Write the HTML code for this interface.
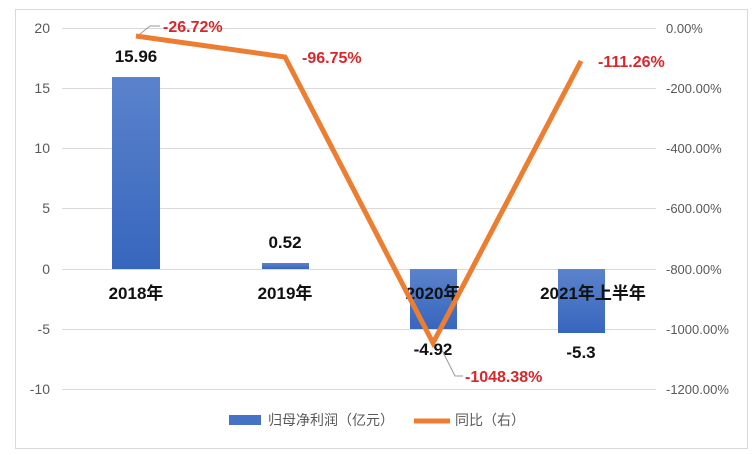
<!DOCTYPE html><html><head><meta charset="utf-8"><style>body{margin:0;background:#fff}svg{display:block}</style></head><body>
<svg width="756" height="455" xmlns="http://www.w3.org/2000/svg" font-family="Liberation Sans, Noto Sans CJK SC, sans-serif">
<defs><linearGradient id="g" x1="0" y1="0" x2="0" y2="1"><stop offset="0" stop-color="#5b83cc"/><stop offset="1" stop-color="#3766be"/></linearGradient></defs>
<rect x="15.5" y="9.5" width="732" height="439" fill="#fff" stroke="#d9d9d9"/>
<g stroke="#d9d9d9" stroke-width="1">
<line x1="62" x2="656" y1="28.5" y2="28.5"/><line x1="62" x2="656" y1="88.5" y2="88.5"/><line x1="62" x2="656" y1="148.5" y2="148.5"/><line x1="62" x2="656" y1="208.5" y2="208.5"/><line x1="62" x2="656" y1="269.5" y2="269.5"/><line x1="62" x2="656" y1="329.5" y2="329.5"/><line x1="62" x2="656" y1="389.5" y2="389.5"/></g>
<g fill="#595959" font-size="14" text-anchor="end">
<text x="50" y="33">20</text><text x="50" y="93">15</text><text x="50" y="153">10</text><text x="50" y="213">5</text><text x="50" y="274">0</text><text x="50" y="334">-5</text><text x="50" y="394">-10</text></g>
<g fill="#595959" font-size="13" text-anchor="start">
<text x="666" y="33">0.00%</text><text x="666" y="93">-200.00%</text><text x="666" y="153">-400.00%</text><text x="666" y="213">-600.00%</text><text x="666" y="274">-800.00%</text><text x="666" y="334">-1000.00%</text><text x="666" y="394">-1200.00%</text></g>
<g fill="url(#g)">
<rect x="112" y="77" width="48" height="192"/><rect x="262" y="263" width="47" height="6"/><rect x="410" y="269" width="47" height="60"/><rect x="558" y="269" width="47" height="64"/></g>
<g fill="#111" font-size="17" font-weight="bold" text-anchor="middle">
<text x="136" y="62">15.96</text><text x="285" y="248">0.52</text><text x="433" y="355">-4.92</text><text x="581" y="358">-5.3</text>
<text x="136" y="299">2018年</text><text x="285" y="299">2019年</text><text x="433" y="299">2020年</text><text x="593" y="299">2021年上半年</text></g>
<polyline points="136,36 285,57 433,343 581,61" fill="none" stroke="#ed7d31" stroke-width="5" stroke-linejoin="miter"/>
<polyline points="140,34 150,26 160,26" fill="none" stroke="#999" stroke-width="1"/>
<polyline points="442,350 455,376 463,376" fill="none" stroke="#999" stroke-width="1"/>
<g fill="#d9262b" font-size="16" font-weight="bold">
<text x="163" y="32">-26.72%</text><text x="302" y="63">-96.75%</text><text x="465" y="382">-1048.38%</text><text x="598" y="67">-111.26%</text></g>
<rect x="229" y="415" width="32" height="10" fill="#4472c4"/>
<text x="268" y="425" font-size="14" fill="#595959">归母净利润（亿元）</text>
<line x1="414" x2="450" y1="421" y2="421" stroke="#ed7d31" stroke-width="5"/>
<text x="455" y="425" font-size="14" fill="#595959">同比（右）</text>
</svg></body></html>
